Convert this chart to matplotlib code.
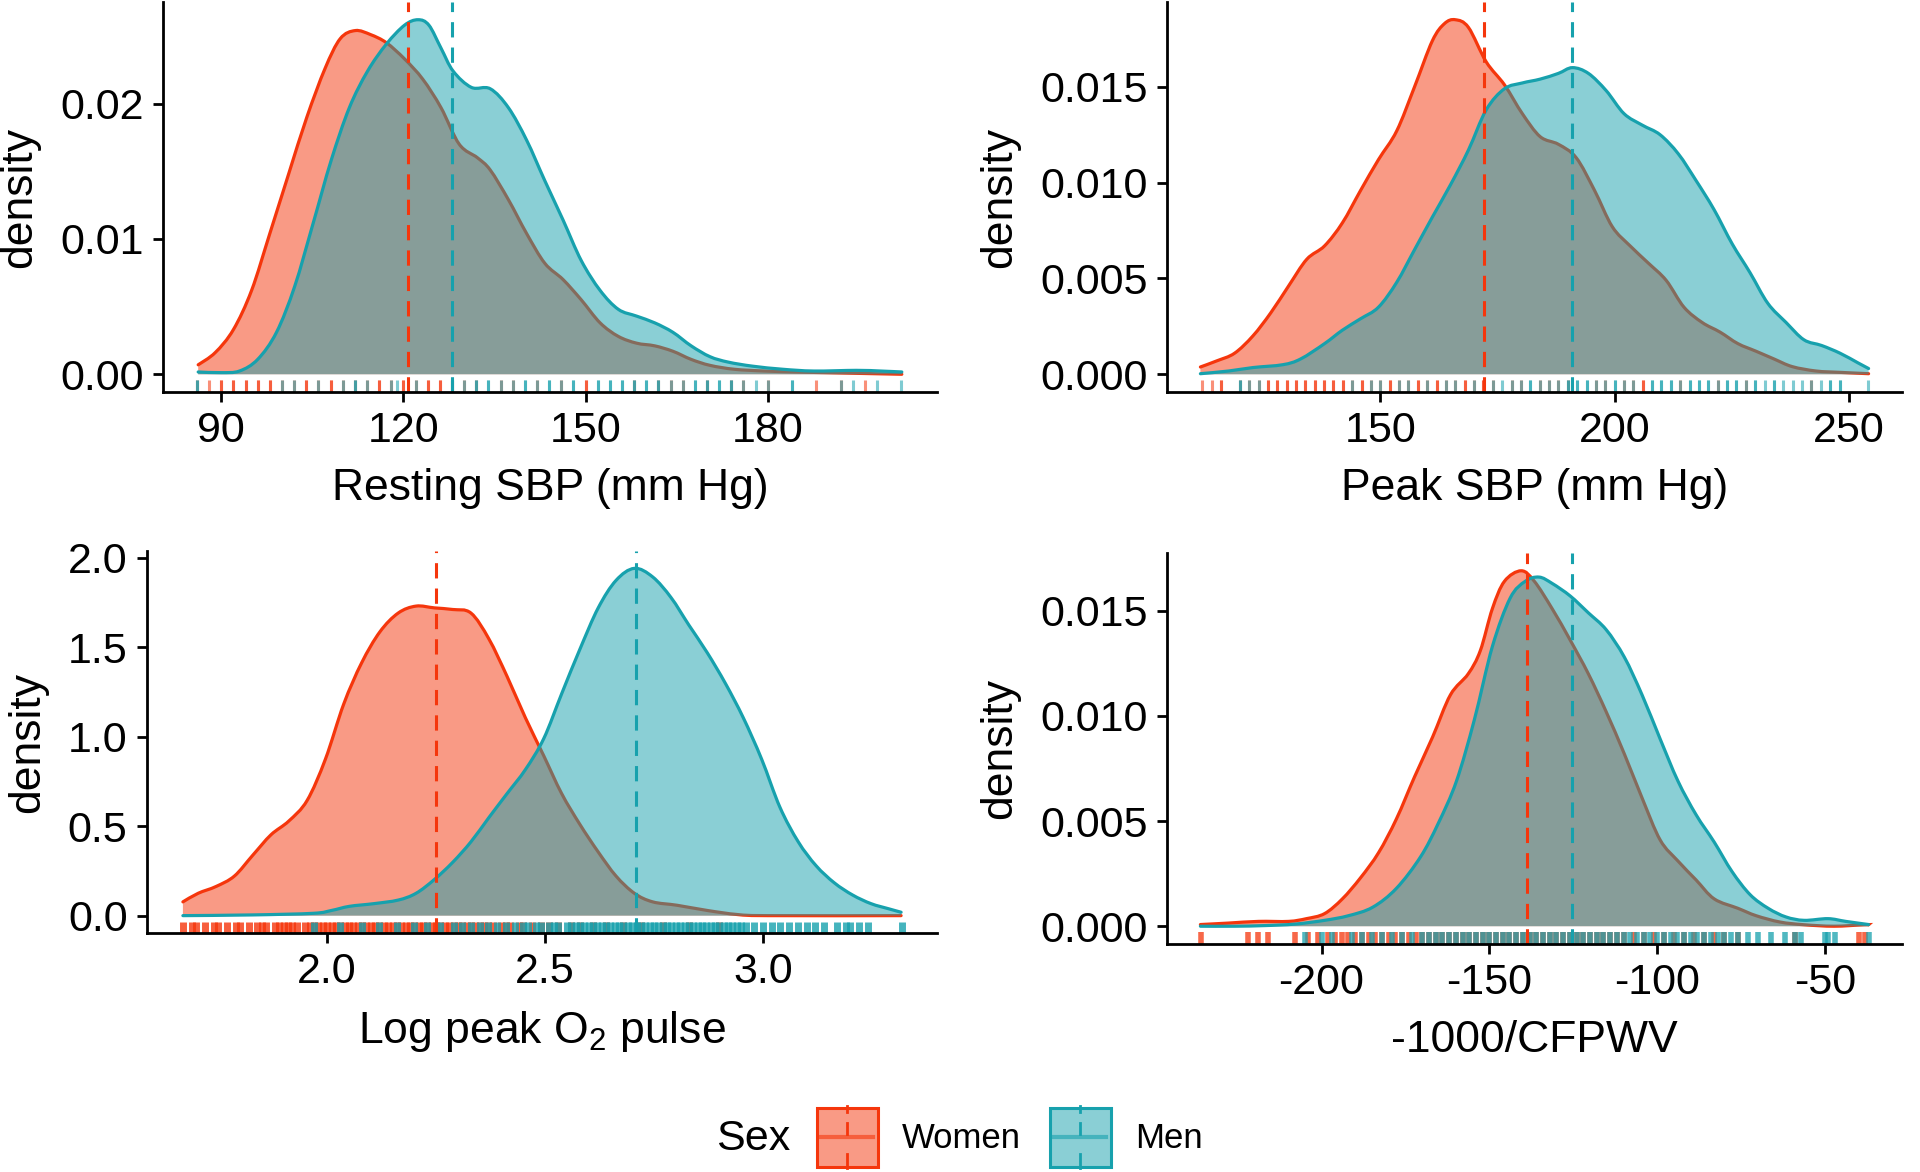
import matplotlib
matplotlib.use("Agg")
import matplotlib.pyplot as plt
from matplotlib.patches import Rectangle, PathPatch
from matplotlib.lines import Line2D
from matplotlib.path import Path

plt.rcParams['font.family'] = ['Liberation Sans', 'DejaVu Sans']
plt.rcParams['axes.unicode_minus'] = False
plt.rcParams['mathtext.default'] = 'regular'

WOMEN = "#F5360C"
MEN = "#17A1AD"

# ---- panel 1: resting SBP ----
rest_x_w = [86.2, 89.0, 92.0, 95.0, 98.0, 101.1, 104.1, 107.1, 109.6, 112.1, 114.6, 117.2, 120.2, 123.2,
            126.2, 129.2, 132.2, 134.3, 137.3, 140.3, 143.3, 146.3, 149.3, 152.4, 155.4, 158.4, 161.4,
            164.4, 167.4, 170.5, 174.5, 179.5, 184.5, 189.6, 194.6, 202.1]
rest_y_w = [0.0007, 0.0016, 0.0033, 0.0062, 0.0104, 0.0148, 0.0190, 0.0226, 0.0248, 0.0254, 0.0251,
            0.0245, 0.0233, 0.0218, 0.0197, 0.0170, 0.0160, 0.0151, 0.0129, 0.0104, 0.0082, 0.0070,
            0.0055, 0.0038, 0.0028, 0.0023, 0.0021, 0.0017, 0.0011, 0.00066, 0.00037, 0.00024,
            0.00017, 0.00012, 0.00007, 0.0]
rest_x_m = [86.2, 90.0, 93.0, 96.0, 99.1, 102.1, 105.1, 108.1, 111.1, 114.1, 117.2, 120.2, 122.4, 124.2,
            126.2, 128.2, 131.2, 134.3, 137.3, 140.3, 143.3, 146.3, 149.3, 152.4, 155.4, 158.4, 161.4,
            164.4, 167.4, 170.5, 173.5, 177.5, 182.5, 187.6, 194.6, 198.6, 202.1]
rest_y_m = [0.00017, 0.00012, 0.00024, 0.0011, 0.0031, 0.0065, 0.0111, 0.0158, 0.0197, 0.0224, 0.0244,
            0.0258, 0.0262, 0.0258, 0.0241, 0.0224, 0.0212, 0.0211, 0.0197, 0.0173, 0.0143, 0.0114,
            0.0084, 0.0062, 0.0048, 0.0043, 0.0038, 0.0031, 0.0021, 0.0013, 0.0009, 0.0006, 0.00037,
            0.00024, 0.00029, 0.00024, 0.00017]
rest_rug_w = [86, 88, 90, 90, 92, 92, 94, 94, 96, 96, 98, 98, 100, 102, 104, 104, 106, 108, 108, 110,
              112, 114, 116, 116, 118, 120, 120, 122, 124, 124, 126, 126, 128, 130, 132, 136, 138, 142,
              146, 150, 150, 158, 162, 164, 166, 170, 174, 176, 180, 188, 192, 196]
rest_rug_m = [86, 86, 100, 102, 106, 110, 112, 112, 114, 118, 119, 122, 128, 128, 130, 132, 132, 134,
              134, 136, 138, 140, 140, 142, 144, 144, 146, 148, 148, 152, 152, 154, 154, 156, 156, 158,
              158, 160, 160, 162, 162, 164, 166, 168, 168, 170, 170, 172, 172, 174, 174, 176, 178, 180,
              184, 184, 192, 194, 198, 202]
rest_mean = [120.8, 128.0]

# ---- panel 2: peak SBP ----
peak_x_w = [111.6, 115.1, 118.9, 122.8, 126.6, 130.4, 134.3, 138.1, 141.9, 145.8, 149.6, 153.5, 157.3,
            161.1, 163.7, 166.0, 168.8, 172.6, 176.5, 180.3, 184.1, 188.0, 191.8, 195.7, 199.5, 203.3,
            207.2, 211.0, 214.8, 218.7, 222.5, 226.3, 230.2, 234.0, 237.9, 243.0, 248.1, 254.2]
peak_y_w = [0.00038, 0.0007, 0.0011, 0.0020, 0.0032, 0.0046, 0.0060, 0.0067, 0.0079, 0.0096, 0.0112,
            0.0127, 0.0150, 0.0174, 0.0183, 0.0185, 0.0181, 0.0163, 0.0151, 0.0136, 0.0124, 0.0120,
            0.0113, 0.0096, 0.0077, 0.0067, 0.0058, 0.0049, 0.0035, 0.0027, 0.0022, 0.0016, 0.0012,
            0.0008, 0.0004, 0.00017, 0.0001, 0.00003]
peak_x_m = [111.6, 117.6, 122.8, 129.2, 133.0, 138.1, 141.9, 145.8, 149.6, 153.5, 157.3, 161.1, 165.0,
            168.8, 172.6, 176.5, 180.3, 184.1, 188.0, 191.0, 194.4, 198.2, 202.0, 205.9, 209.7, 213.6,
            217.4, 221.2, 225.1, 228.9, 232.7, 236.6, 240.4, 244.2, 248.1, 251.9, 254.2]
peak_y_m = [0.00003, 0.00017, 0.00035, 0.0005, 0.0008, 0.0016, 0.0023, 0.0029, 0.0035, 0.0048, 0.0065,
            0.0082, 0.0099, 0.0117, 0.0138, 0.0149, 0.0152, 0.0154, 0.0157, 0.0160, 0.0157, 0.0148,
            0.0136, 0.0130, 0.0125, 0.0115, 0.0101, 0.0086, 0.0068, 0.0053, 0.0037, 0.0027, 0.0018,
            0.0015, 0.0011, 0.0006, 0.0003]
peak_rug_w = [112, 114, 116, 116, 120, 122, 124, 126, 126, 128, 128, 130, 130, 132, 132, 134, 134, 136,
              136, 138, 138, 140, 140, 142, 142, 144, 146, 146, 148, 150, 152, 152, 154, 156, 158, 158,
              160, 162, 162, 164, 166, 168, 168, 170, 172, 172, 174, 178, 180, 184, 186, 188, 190, 196,
              198, 202, 204, 206, 206, 214, 222, 228, 242]
peak_rug_m = [120, 120, 122, 124, 144, 148, 150, 154, 156, 160, 164, 166, 170, 174, 176, 178, 180, 182,
              182, 184, 186, 188, 190, 190, 192, 192, 194, 194, 196, 198, 200, 200, 202, 204, 208, 208,
              210, 210, 212, 212, 214, 216, 216, 218, 218, 220, 220, 222, 224, 224, 226, 226, 228, 230,
              230, 232, 234, 234, 236, 238, 240, 242, 244, 246, 246, 248, 248, 254]
peak_mean = [172.1, 190.9]

# ---- panel 3: log peak O2 pulse ----
o2_x_w = [1.669, 1.704, 1.745, 1.787, 1.829, 1.871, 1.912, 1.954, 1.996, 2.038, 2.079, 2.121, 2.163,
          2.204, 2.246, 2.288, 2.330, 2.371, 2.413, 2.455, 2.497, 2.538, 2.580, 2.622, 2.663, 2.705,
          2.747, 2.803, 2.872, 2.942, 3.011, 3.317]
o2_y_w = [0.077, 0.125, 0.163, 0.221, 0.337, 0.452, 0.529, 0.644, 0.875, 1.183, 1.413, 1.587, 1.692,
          1.731, 1.721, 1.712, 1.692, 1.548, 1.337, 1.106, 0.894, 0.683, 0.510, 0.356, 0.221, 0.125,
          0.077, 0.058, 0.029, 0.006, 0.0, 0.0]
o2_x_m = [1.669, 1.829, 1.968, 2.010, 2.051, 2.107, 2.163, 2.204, 2.246, 2.288, 2.330, 2.371, 2.413,
          2.455, 2.497, 2.538, 2.580, 2.622, 2.663, 2.705, 2.747, 2.789, 2.830, 2.872, 2.914, 2.955,
          2.997, 3.039, 3.081, 3.122, 3.164, 3.206, 3.248, 3.289, 3.317]
o2_y_m = [0.0, 0.004, 0.013, 0.029, 0.052, 0.067, 0.087, 0.125, 0.202, 0.298, 0.413, 0.548, 0.683,
          0.817, 0.990, 1.240, 1.490, 1.721, 1.875, 1.942, 1.894, 1.779, 1.625, 1.471, 1.298, 1.106,
          0.875, 0.606, 0.413, 0.279, 0.183, 0.115, 0.067, 0.038, 0.019]
o2_rug_w = [1.67, 1.69, 1.70, 1.72, 1.74, 1.75, 1.77, 1.79, 1.80, 1.82, 1.84, 1.85, 1.86, 1.88, 1.89,
            1.90, 1.91, 1.92, 1.93, 1.95, 1.96, 1.97, 1.98, 1.99, 2.00, 2.01, 2.02, 2.03, 2.04, 2.05,
            2.06, 2.07, 2.08, 2.09, 2.10, 2.11, 2.12, 2.13, 2.14, 2.15, 2.16, 2.17, 2.18, 2.19, 2.20,
            2.21, 2.22, 2.23, 2.24, 2.25, 2.26, 2.27, 2.28, 2.29, 2.30, 2.31, 2.32, 2.33, 2.34, 2.35,
            2.36, 2.37, 2.38, 2.40, 2.41, 2.42, 2.44, 2.45, 2.47, 2.49, 2.51, 2.53, 2.56, 2.58, 2.61,
            2.64, 2.68, 2.72, 2.77, 2.83, 2.90]
o2_rug_m = [1.97, 2.03, 2.08, 2.12, 2.16, 2.20, 2.23, 2.26, 2.29, 2.31, 2.33, 2.35, 2.37, 2.39, 2.41,
            2.43, 2.45, 2.46, 2.48, 2.49, 2.51, 2.52, 2.53, 2.55, 2.56, 2.57, 2.58, 2.59, 2.60, 2.61,
            2.62, 2.63, 2.64, 2.65, 2.66, 2.67, 2.68, 2.69, 2.70, 2.71, 2.72, 2.73, 2.74, 2.75, 2.76,
            2.77, 2.78, 2.79, 2.80, 2.81, 2.82, 2.83, 2.84, 2.85, 2.86, 2.87, 2.88, 2.89, 2.90, 2.91,
            2.92, 2.93, 2.94, 2.95, 2.96, 2.98, 3.00, 3.02, 3.04, 3.06, 3.08, 3.10, 3.12, 3.14, 3.17,
            3.19, 3.20, 3.22, 3.24, 3.32]
o2_mean = [2.250, 2.708]

# ---- panel 4: -1000/CFPWV ----
pwv_x_w = [-236.1, -227.7, -218.8, -209.8, -204.5, -199.1, -193.8, -188.4, -183.0, -177.7, -172.3,
           -166.9, -161.6, -156.3, -152.7, -149.1, -145.5, -140.5, -136.6, -131.3, -125.9, -120.5,
           -115.2, -109.8, -104.5, -99.1, -93.8, -88.4, -83.0, -75.9, -70.5, -63.4, -56.2, -47.3,
           -38.4, -37.0]
pwv_y_w = [0.00008, 0.00015, 0.00023, 0.00023, 0.00036, 0.0006, 0.0013, 0.0023, 0.0035, 0.0051,
           0.0071, 0.0090, 0.0110, 0.0120, 0.0131, 0.0151, 0.0164, 0.0169, 0.0164, 0.0151, 0.0136,
           0.0120, 0.0102, 0.0082, 0.0061, 0.0041, 0.0031, 0.0022, 0.0013, 0.00085, 0.0005, 0.0002,
           0.00007, 0.0, 0.00007, 0.00007]
pwv_x_m = [-236.1, -225.9, -217.0, -208.0, -199.1, -192.0, -184.8, -177.7, -170.5, -165.2, -159.8,
           -154.5, -149.1, -143.8, -139.3, -135.2, -131.3, -125.9, -120.5, -115.2, -109.8, -104.5,
           -99.1, -93.8, -88.4, -83.0, -77.7, -72.3, -66.9, -61.6, -56.2, -49.1, -43.8, -37.0]
pwv_y_m = [0.0, 0.0, 0.00003, 0.0001, 0.00028, 0.0005, 0.0009, 0.0018, 0.0033, 0.0049, 0.0069,
           0.0098, 0.0133, 0.0156, 0.0164, 0.0166, 0.0163, 0.0157, 0.0149, 0.0141, 0.0128, 0.0110,
           0.0089, 0.0069, 0.0053, 0.0040, 0.0026, 0.0015, 0.00085, 0.00044, 0.00028, 0.00036,
           0.00023, 0.00008]
pwv_rug_w = [-236, -222, -219, -216, -208, -204, -201, -198, -196, -194, -192, -190, -188, -186, -184,
             -182, -180, -178, -176, -174, -172, -170, -168, -166, -164, -162, -160, -158, -156, -154,
             -152, -150, -148, -146, -144, -142, -140, -138, -136, -134, -132, -130, -128, -126, -124,
             -122, -120, -118, -116, -114, -112, -110, -107, -104, -101, -98, -95, -92, -89, -86, -83,
             -80, -76, -59, -40, -38]
pwv_rug_m = [-205, -200, -197, -191, -188, -185, -182, -179, -176, -173, -170, -168, -166, -164, -162,
             -160, -158, -156, -154, -152, -150, -148, -146, -144, -142, -140, -138, -136, -134, -132,
             -130, -128, -126, -124, -122, -120, -118, -116, -114, -112, -110, -108, -106, -104, -102,
             -100, -98, -96, -94, -92, -90, -88, -86, -84, -82, -80, -78, -76, -73, -70, -66, -62, -59,
             -57, -50, -49, -47, -37]
pwv_mean = [-138.9, -125.5]

panels = [
    # (rect in px: left, right, top, bottom), data, ticks, labels, xlabel, rug lw, rug alpha
    ((163, 937, 2, 392), (rest_x_w, rest_y_w, rest_x_m, rest_y_m, rest_rug_w, rest_rug_m, rest_mean),
     [90, 120, 150, 180], ["90", "120", "150", "180"], [0, 0.01, 0.02], "{:.2f}",
     "Resting SBP (mm Hg)", 2.2, 0.55),
    ((1167, 1902, 2, 392), (peak_x_w, peak_y_w, peak_x_m, peak_y_m, peak_rug_w, peak_rug_m, peak_mean),
     [150, 200, 250], ["150", "200", "250"], [0, 0.005, 0.010, 0.015], "{:.3f}",
     "Peak SBP (mm Hg)", 2.2, 0.55),
    ((147, 937, 551, 933), (o2_x_w, o2_y_w, o2_x_m, o2_y_m, o2_rug_w, o2_rug_m, o2_mean),
     [2.0, 2.5, 3.0], ["2.0", "2.5", "3.0"], [0, 0.5, 1.0, 1.5, 2.0], "{:.1f}",
     "Log peak O$_2$ pulse", 5.0, 0.8),
    ((1167, 1902, 553, 944), (pwv_x_w, pwv_y_w, pwv_x_m, pwv_y_m, pwv_rug_w, pwv_rug_m, pwv_mean),
     [-200, -150, -100, -50], ["-200", "-150", "-100", "-50"], [0, 0.005, 0.010, 0.015], "{:.3f}",
     "-1000/CFPWV", 4.0, 0.75),
]


def smooth_path(x, y):
    # Catmull-Rom curve through the read points, drawn as cubic Bezier segments
    verts = [(x[0], y[0])]
    codes = [Path.MOVETO]
    n = len(x)
    for i in range(n - 1):
        xa, ya = (x[i - 1], y[i - 1]) if i > 0 else (x[i], y[i])
        xd, yd = (x[i + 2], y[i + 2]) if i + 2 < n else (x[i + 1], y[i + 1])
        c1 = (x[i] + (x[i + 1] - xa) / 6, y[i] + (y[i + 1] - ya) / 6)
        c2 = (x[i + 1] - (xd - x[i]) / 6, y[i + 1] - (yd - y[i]) / 6)
        verts += [c1, c2, (x[i + 1], y[i + 1])]
        codes += [Path.CURVE4] * 3
    return verts, codes


def density(ax, x, y, col, z):
    verts, codes = smooth_path(x, y)
    fill = Path(verts + [(x[-1], 0), (x[0], 0), (x[0], y[0])],
                codes + [Path.LINETO, Path.LINETO, Path.CLOSEPOLY])
    ax.add_patch(PathPatch(fill, facecolor=col, alpha=0.5, lw=0, zorder=z))
    ax.add_patch(PathPatch(Path(verts, codes), facecolor='none', edgecolor=col, lw=2.3,
                           capstyle='round', zorder=z + 0.05))


W, H = 1920, 1172
fig = plt.figure(figsize=(W / 100, H / 100), dpi=100)

for (l, r, t, b), data, xt, xtl, yt, yfmt, xlab, rlw, ralpha in panels:
    xw, yw, xm, ym, rw, rm, means = data
    ax = fig.add_axes([l / W, 1 - b / H, (r - l) / W, (b - t) / H])
    density(ax, xw, yw, WOMEN, 1.0)
    density(ax, xm, ym, MEN, 1.2)
    tr = ax.get_xaxis_transform()
    ax.vlines(rw, 0, 0.03, transform=tr, colors=WOMEN, alpha=ralpha, lw=rlw, zorder=1.4)
    ax.vlines(rm, 0, 0.03, transform=tr, colors=MEN, alpha=ralpha, lw=rlw, zorder=1.5)
    ax.axvline(means[0], color=WOMEN, lw=2.2, ls=(0, (5, 3.3)), zorder=1.6)
    ax.axvline(means[1], color=MEN, lw=2.2, ls=(0, (5, 3.3)), zorder=1.6)

    xmin, xmax = min(xw + xm), max(xw + xm)
    pad = (xmax - xmin) * 0.05
    ax.set_xlim(xmin - pad, xmax + pad)
    ymax = max(yw + ym)
    ax.set_ylim(-0.05 * ymax, ymax * 1.05)

    ax.set_xticks(xt)
    ax.set_xticklabels(xtl)
    ax.set_yticks(yt)
    ax.set_yticklabels([yfmt.format(v) for v in yt])
    ax.tick_params(labelsize=31, length=7, width=2.0, pad=7, color='black', labelcolor='black')
    for s in ['top', 'right']:
        ax.spines[s].set_visible(False)
    for s in ['left', 'bottom']:
        ax.spines[s].set_linewidth(2.0)
    ax.set_xlabel(xlab, fontsize=32, labelpad=12)
    ax.set_ylabel("density", fontsize=32, labelpad=14)

# legend
fig.text(716 / W, 1 - 1139 / H, "Sex", fontsize=31, va='center', ha='left')
bw, bh = 61 / W, 59 / H
for cx, col, lab, tx in [(847, WOMEN, "Women", 902), (1080, MEN, "Men", 1135)]:
    x0 = cx / W - bw / 2
    y0 = 1 - 1137 / H - bh / 2
    fig.add_artist(Rectangle((x0, y0), bw, bh, transform=fig.transFigure,
                             facecolor=col, alpha=0.5, lw=0))
    fig.add_artist(Rectangle((x0, y0), bw, bh, transform=fig.transFigure,
                             facecolor='none', edgecolor=col, lw=2.2))
    fig.add_artist(Line2D([x0 + bw * 0.08, x0 + bw * 0.92], [y0 + bh / 2, y0 + bh / 2],
                          transform=fig.transFigure, color=col, alpha=0.6, lw=3))
    for a, c in [(-0.02, 0.22), (0.55, 0.73), (0.92, 1.03)]:
        fig.add_artist(Line2D([cx / W, cx / W], [y0 + bh * a, y0 + bh * c],
                              transform=fig.transFigure, color=col, lw=2))
    fig.text(tx / W, 1 - 1139 / H, lab, fontsize=25, va='center', ha='left')

fig.savefig("out.png", dpi=100, facecolor='white')
